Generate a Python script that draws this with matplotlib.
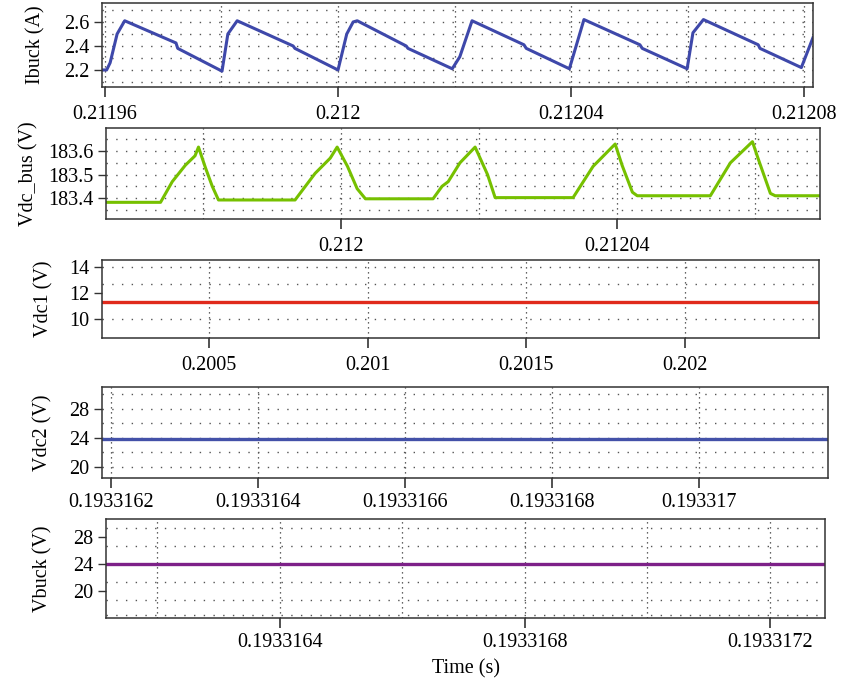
import matplotlib
matplotlib.use("Agg")
import matplotlib.pyplot as plt

plt.rcParams['font.family'] = ['Liberation Serif', 'DejaVu Serif']
plt.rcParams['font.size'] = 14.5

# --- data ---
# Ibuck (A)
ibuck_t = [0.2119595, 0.2119603, 0.2119609, 0.2119621, 0.2119634, 0.2119722, 0.2119725,
           0.2119801, 0.2119811, 0.2119827, 0.2119923, 0.2119926,
           0.2120000, 0.2120015, 0.2120026, 0.2120033, 0.2120117, 0.2120120,
           0.2120196, 0.2120209, 0.2120230, 0.2120319, 0.2120323,
           0.2120397, 0.2120422, 0.2120518, 0.2120522,
           0.2120599, 0.2120609, 0.2120627, 0.2120721, 0.2120724,
           0.2120795, 0.2120815]
ibuck_v = [2.20, 2.20, 2.26, 2.50, 2.61, 2.425, 2.38,
           2.19, 2.50, 2.61, 2.40, 2.38,
           2.20, 2.50, 2.60, 2.61, 2.40, 2.38,
           2.21, 2.31, 2.61, 2.41, 2.38,
           2.21, 2.62, 2.41, 2.38,
           2.21, 2.51, 2.62, 2.41, 2.38,
           2.22, 2.47]

# Vdc_bus (V)
vbus_t = [0.2119659, 0.2119738, 0.2119755, 0.2119774, 0.2119788, 0.2119793, 0.2119803,
          0.2119813, 0.2119822, 0.2119933, 0.2119962, 0.2119984, 0.2119994, 0.2120009,
          0.2120023, 0.2120035, 0.2120133, 0.2120146, 0.2120155, 0.2120172, 0.2120194,
          0.2120212, 0.2120223, 0.2120336, 0.2120365, 0.2120397, 0.2120407, 0.2120422,
          0.2120429, 0.2120535, 0.2120564, 0.2120596, 0.2120604, 0.2120622, 0.2120629,
          0.2120694]
vbus_v = [183.382, 183.382, 183.47, 183.54, 183.58, 183.617, 183.53,
          183.45, 183.392, 183.392, 183.505, 183.57, 183.617, 183.535,
          183.44, 183.397, 183.397, 183.45, 183.47, 183.55, 183.617,
          183.50, 183.402, 183.402, 183.535, 183.63, 183.54, 183.425,
          183.41, 183.41, 183.55, 183.64, 183.57, 183.42, 183.41,
          183.41]

# Vdc1, Vdc2, Vbuck (V): flat over the shown window
vdc1_t = [0.200163, 0.202422]
vdc1_v = [11.33, 11.33]
vdc2_t = [0.1933161878, 0.1933171755]
vdc2_v = [23.9, 23.9]
vbk_t = [0.1933161169, 0.1933172896]
vbk_v = [24.0, 24.0]

fig = plt.figure(figsize=(8.49, 6.84), dpi=100)

hgrid = dict(color='#555555', linestyle=(0, (1, 6)), linewidth=1.0)
vgrid = dict(color='#333333', linestyle=(0, (1, 3)), linewidth=0.9)


def style(ax, xlim, ylim, xt, xtl, yt, ytl, xg, yg, pad, ylab, labx):
    ax.xaxis.remove_overlapping_locs = False
    ax.yaxis.remove_overlapping_locs = False
    ax.set_xlim(*xlim)
    ax.set_ylim(*ylim)
    ax.set_xticks(xt)
    ax.set_xticklabels(xtl)
    ax.set_yticks(yt)
    ax.set_yticklabels(ytl)
    ax.set_xticks(xg, minor=True)
    ax.set_yticks(yg, minor=True)
    ax.grid(False)
    ax.grid(True, which='minor', axis='y', **hgrid)
    ax.grid(True, which='minor', axis='x', **vgrid)
    ax.tick_params(which='minor', length=0)
    ax.tick_params(axis='x', which='major', length=7, width=1.2, pad=pad, color='#333333')
    ax.tick_params(axis='y', which='major', length=6, width=1.0, pad=3, color='#333333')
    ax.set_axisbelow(True)
    for s in ax.spines.values():
        s.set_color('#333333')
        s.set_linewidth(1.1)
    ax.set_ylabel(ylab)
    ax.yaxis.set_label_coords(labx, 0.5)


ax1 = fig.add_axes([0.1201, 0.8728, 0.8375, 0.1228])
ax1.plot(ibuck_t, ibuck_v, color='#3E48AA', lw=2.2)
style(ax1, (0.2119595, 0.2120815), (2.058, 2.758),
      [0.21196, 0.212, 0.21204, 0.21208], ['0.21196', '0.212', '0.21204', '0.21208'],
      [2.2, 2.4, 2.6], ['2.2', '2.4', '2.6'],
      [0.21196, 0.21198, 0.212, 0.21202, 0.21204, 0.21206, 0.21208],
      [2.1, 2.2, 2.3, 2.4, 2.5, 2.6, 2.7], 6, 'Ibuck (A)', -0.08)

ax2 = fig.add_axes([0.1249, 0.6798, 0.8410, 0.1330])
ax2.plot(vbus_t, vbus_v, color='#76C000', lw=2.2)
style(ax2, (0.2119659, 0.2120694), (183.311, 183.698),
      [0.212, 0.21204], ['0.212', '0.21204'],
      [183.4, 183.5, 183.6], ['183.4', '183.5', '183.6'],
      [0.21198, 0.212, 0.21202, 0.21204, 0.21206],
      [183.35, 183.4, 183.45, 183.5, 183.55, 183.6, 183.65], 6, 'Vdc_bus (V)', -0.095)

ax3 = fig.add_axes([0.1201, 0.5058, 0.8445, 0.1140])
ax3.plot(vdc1_t, vdc1_v, color='#E02A1C', lw=2.4)
style(ax3, (0.200163, 0.202422), (8.58, 14.51),
      [0.2005, 0.201, 0.2015, 0.202], ['0.2005', '0.201', '0.2015', '0.202'],
      [10, 12, 14], ['10', '12', '14'],
      [0.2005, 0.201, 0.2015, 0.202],
      [10, 11.333, 12.667, 14], 6, 'Vdc1 (V)', -0.068)

ax4 = fig.add_axes([0.1201, 0.3012, 0.8551, 0.1330])
ax4.plot(vdc2_t, vdc2_v, color='#4351A8', lw=2.4)
style(ax4, (0.1933161878, 0.1933171755), (18.48, 31.03),
      [0.1933162, 0.1933164, 0.1933166, 0.1933168, 0.193317],
      ['0.1933162', '0.1933164', '0.1933166', '0.1933168', '0.193317'],
      [20, 24, 28], ['20', '24', '28'],
      [0.1933162, 0.1933164, 0.1933166, 0.1933168, 0.193317],
      [20, 22, 24, 26, 28, 30], 4, 'Vdc2 (V)', -0.0675)

ax5 = fig.add_axes([0.1249, 0.0965, 0.8469, 0.1447])
ax5.plot(vbk_t, vbk_v, color='#7D2188', lw=2.4)
style(ax5, (0.1933161169, 0.1933172896), (15.96, 30.62),
      [0.1933164, 0.1933168, 0.1933172], ['0.1933164', '0.1933168', '0.1933172'],
      [20, 24, 28], ['20', '24', '28'],
      [0.1933162, 0.1933164, 0.1933166, 0.1933168, 0.193317, 0.1933172],
      [16.4, 18.67, 21.33, 24, 26.67, 29.33], 4, 'Vbuck (V)', -0.074)
ax5.set_xlabel('Time (s)', labelpad=5)

fig.savefig('out.png', dpi=100)
